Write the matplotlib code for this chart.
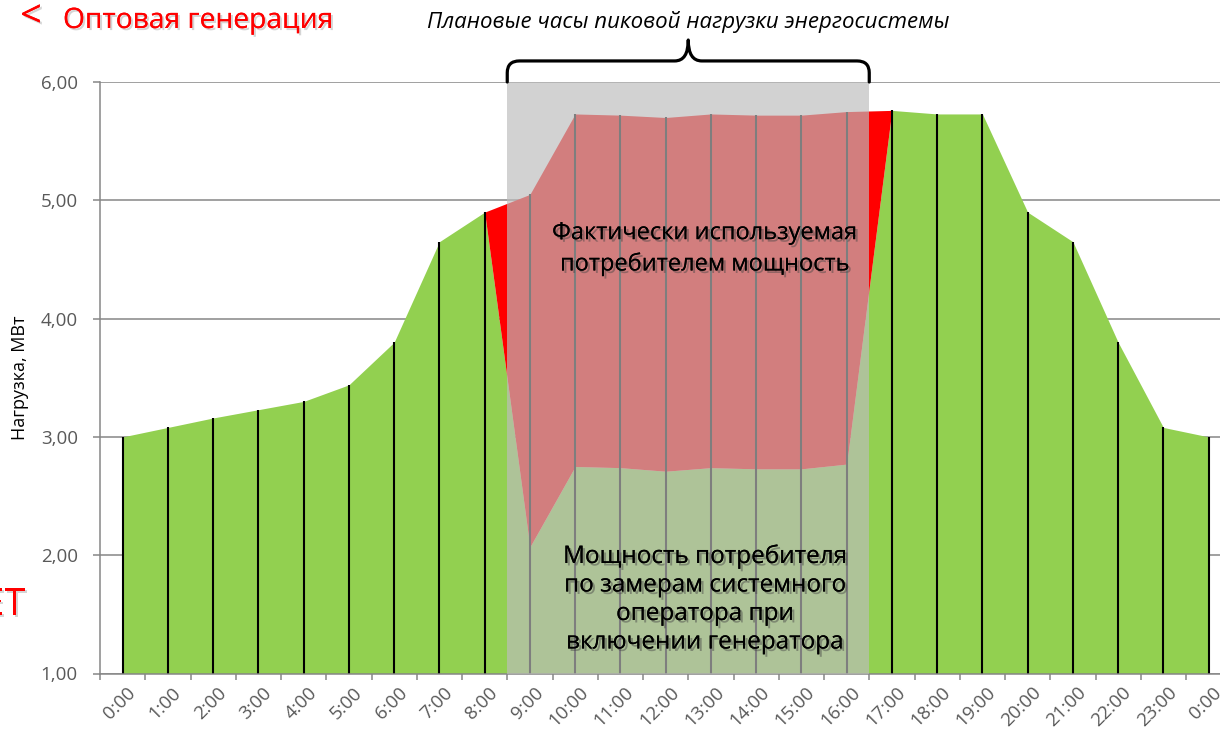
import matplotlib
matplotlib.use("Agg")
import matplotlib.pyplot as plt
import matplotlib.patheffects as pe
from matplotlib.path import Path
from matplotlib.patches import PathPatch, Rectangle
from matplotlib.transforms import ScaledTranslation

plt.rcParams["font.family"] = ["Open Sans", "DejaVu Sans"]

# hourly load profile, MW (0:00 .. 0:00 next day)
hours = [f"{h}:00" for h in range(24)] + ["0:00"]
load = [3.00, 3.08, 3.16, 3.23, 3.30, 3.44, 3.80, 4.65, 4.90, 5.05, 5.73, 5.72, 5.70,
        5.73, 5.72, 5.72, 5.75, 5.76, 5.73, 5.73, 4.90, 4.65, 3.80, 3.08, 3.00]
# load seen by the system operator while the generator runs
measured = [3.00, 3.08, 3.16, 3.23, 3.30, 3.44, 3.80, 4.65, 4.90, 2.07, 2.75, 2.74, 2.71,
            2.74, 2.73, 2.73, 2.77, 5.76, 5.73, 5.73, 4.90, 4.65, 3.80, 3.08, 3.00]
peak_hours = (9, 16)
y_ticks = [1, 2, 3, 4, 5, 6]

GREEN = "#92D050"
RED = "#FF0000"
AXIS_GRAY = "#868686"

fig = plt.figure(figsize=(12.2, 7.31), dpi=100)
fig.patch.set_facecolor("white")
# category width is ~45.25 px, axes runs past the right edge of the picture
ax = fig.add_axes([100 / 1220, (731 - 673.5) / 731, 1131.25 / 1220, 591.5 / 731])

x = list(range(len(hours)))
ax.fill_between(x, 1, measured, color=GREEN, lw=0, zorder=1)
ax.fill_between(x, measured, load, color=RED, lw=0, zorder=1)
ax.vlines(x, 1, load, colors="black", lw=1.5, zorder=2)

# planned peak hours band (semi-transparent gray on top)
p0, p1 = peak_hours[0] - 0.5, peak_hours[1] + 0.5
ax.add_patch(Rectangle((p0, 1), p1 - p0, 5, facecolor="#bdbdbd", alpha=0.67,
                       lw=0, zorder=3))

ax.set_xlim(-0.5, len(hours) - 0.5)
ax.set_ylim(1, 6)
ax.set_yticks(y_ticks)
ax.set_yticklabels([f"{v:.2f}".replace(".", ",") for v in y_ticks],
                   fontsize=13.5, color="#595959")
ax.yaxis.grid(True, color=AXIS_GRAY, lw=1.1, zorder=0)
ax.set_axisbelow(True)
ax.tick_params(axis="y", length=5, width=1.1, color=AXIS_GRAY, pad=11)

ax.set_xticks(x)
ax.set_xticklabels(hours, fontsize=13.5, color="#595959", rotation=45,
                   ha="right", va="center", rotation_mode="anchor")
ax.set_xticks([i - 0.5 for i in range(len(hours) + 1)], minor=True)
ax.tick_params(axis="x", which="major", length=0, pad=0)
ax.tick_params(axis="x", which="minor", length=4.5, width=1.1, color=AXIS_GRAY)
shift = ScaledTranslation(0.105, -0.165, fig.dpi_scale_trans)
for lab in ax.get_xticklabels():
    lab.set_transform(lab.get_transform() + shift)

for side in ("top", "right"):
    ax.spines[side].set_visible(False)
for side in ("left", "bottom"):
    ax.spines[side].set_color(AXIS_GRAY)
    ax.spines[side].set_linewidth(1.1)

ax.text(-0.0707, 0.5, "Нагрузка, МВт", transform=ax.transAxes, rotation=90,
        ha="center", va="center", fontsize=13, color="black")

# brace over the peak band
mid = (p0 + p1) / 2
yb, yh, yt = 6.0, 6.178, 6.355
rx, ry = 0.27, 0.1
verts = [(p0, yb), (p0, yh - ry), (p0, yh), (p0 + rx, yh),
         (mid - 0.3, yh), (mid, yh), (mid, yt),
         (mid, yh), (mid + 0.3, yh),
         (p1 - rx, yh), (p1, yh), (p1, yh - ry), (p1, yb)]
codes = [Path.MOVETO, Path.LINETO, Path.CURVE3, Path.CURVE3,
         Path.LINETO, Path.CURVE3, Path.CURVE3,
         Path.CURVE3, Path.CURVE3,
         Path.LINETO, Path.CURVE3, Path.CURVE3, Path.LINETO]
ax.add_patch(PathPatch(Path(verts, codes), facecolor="none", edgecolor="black",
                       lw=2.3, clip_on=False, zorder=5, capstyle="round",
                       joinstyle="round"))
ax.text(mid, 6.507, "Плановые часы пиковой нагрузки энергосистемы", ha="center",
        va="center", fontsize=16, style="italic", color="black", clip_on=False)

shadow = [pe.withSimplePatchShadow(offset=(1.8, -1.8), shadow_rgbFace="#444444",
                                   alpha=0.45), pe.Normal()]
ax.text(12.87, 4.59, "Фактически используемая\nпотребителем мощность", ha="center",
        va="center", fontsize=17, linespacing=1.38, color="black", zorder=6,
        path_effects=shadow)
ax.text(12.87, 1.625, "Мощность потребителя\nпо замерам системного\nоператора при\n"
        "включении генератора", ha="center", va="center", fontsize=17.5,
        linespacing=1.25, color="black", zorder=6, path_effects=shadow)

# slide fragments cropped by the picture edge
red_shadow = [pe.withSimplePatchShadow(offset=(1.5, -1.5), shadow_rgbFace="#888888",
                                       alpha=0.35), pe.Normal()]
fig.text(31 / 1220, 1 - 17 / 731, "<", ha="center", va="center", fontsize=27,
         color=RED, path_effects=red_shadow)
fig.text(63 / 1220, 1 - 28 / 731, "Оптовая генерация", ha="left", va="baseline",
         fontsize=20.3, color=RED, path_effects=red_shadow)
fig.text(25 / 1220, 1 - 615 / 731, "ЕТ", ha="right", va="baseline", fontsize=27,
         color=RED, path_effects=red_shadow)

fig.savefig("out.png", dpi=100, facecolor="white")
